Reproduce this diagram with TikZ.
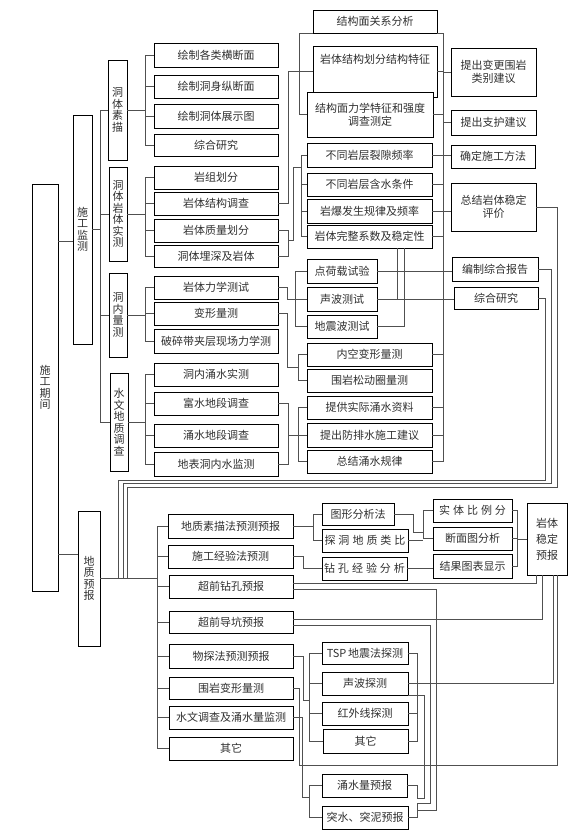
\documentclass[tikz,border=0pt]{standalone}
\usepackage{fontspec}
\setmainfont{Noto Sans CJK SC}
\usetikzlibrary{calc}
\definecolor{lnGray}{HTML}{505050}
\definecolor{txGray}{HTML}{303030}
\newcommand{\gap}{\hspace{3pt}}

\begin{document}
\begin{tikzpicture}[x=1pt, y=-1pt,
  box/.style={draw=black, line width=0.8pt, fill=white, inner sep=0pt, text=txGray, align=center, font=\fontsize{11}{13}\selectfont},
  vbox/.style={box, font=\fontsize{11}{11.5}\selectfont},
  tbox/.style={box, font=\fontsize{11}{16}\selectfont},
  ln/.style={draw=lnGray, line width=0.6pt}]
  \useasboundingbox (0,0) rectangle (576,834);
  % box: style, name, left, top, right, bottom, text
  \newcommand{\bx}[7]{\node[#1, minimum width={#5pt-#3pt}, minimum height={#6pt-#4pt}] (#2) at ({(#3+#5)/2},{(#4+#6)/2}) {#7};}
  % Main levels
  \bx{vbox}{qj}{32}{184}{58}{591}{施\\工\\期\\间}
  \bx{vbox}{jc}{73}{115}{92}{344}{施\\工\\监\\测}
  \bx{vbox}{yb}{78}{511}{100}{646}{地\\质\\预\\报}
  \bx{vbox}{sm}{108}{60}{127}{160}{洞\\体\\素\\描}
  \bx{vbox}{sc}{109}{167}{127}{261}{洞\\体\\岩\\体\\实\\测}
  \bx{vbox}{lc}{109}{273}{127}{357}{洞\\内\\量\\测}
  \bx{vbox}{sw}{110}{373}{128}{471}{水\\文\\地\\质\\调\\查}
  % Monitoring items
  \bx{box}{a1}{154}{43}{278}{67}{绘制各类横断面}
  \bx{box}{a2}{154}{75}{278}{98}{绘制洞身纵断面}
  \bx{box}{a3}{154}{104}{278}{128}{绘制洞体展示图}
  \bx{box}{a4}{154}{134}{278}{156}{综合研究}
  \bx{box}{b1}{154}{166}{278}{189}{岩组划分}
  \bx{box}{b2}{154}{192}{278}{215}{岩体结构调查}
  \bx{box}{b3}{154}{219}{278}{242}{岩体质量划分}
  \bx{box}{b4}{154}{245}{278}{267}{洞体埋深及岩体}
  \bx{box}{c1}{154}{276}{278}{299}{岩体力学测试}
  \bx{box}{c2}{154}{302}{278}{325}{变形量测}
  \bx{box}{c3}{154}{329}{278}{353}{破碎带夹层现场力学测}
  \bx{box}{d1}{154}{363}{278}{386}{洞内涌水实测}
  \bx{box}{d2}{154}{392}{278}{415}{富水地段调查}
  \bx{box}{d3}{154}{424}{278}{447}{涌水地段调查}
  \bx{box}{d4}{154}{452}{278}{476}{地表洞内水监测}
  % Results column
  \bx{box}{e1}{313}{10}{437}{33}{结构面关系分析}
  \bx{box}{e2}{313}{46}{437}{97}{}
  \node[text=txGray, font=\fontsize{11}{13}\selectfont] (e2t) at ($(e2.north)+(0,14)$) {岩体结构划分结构特征};
  \bx{box}{e3}{307}{92}{433}{137}{结构面力学特征和强度\\调查测定}
  \bx{box}{g1}{307}{143}{432}{167}{不同岩层裂隙频率}
  \bx{box}{g2}{307}{173}{432}{196}{不同岩层含水条件}
  \bx{box}{g3}{307}{199}{432}{223}{岩爆发生规律及频率}
  \bx{box}{g4}{307}{225}{432}{248}{岩体完整系数及稳定性}
  \bx{box}{h1}{307}{259}{377}{283}{点荷载试验}
  \bx{box}{h2}{307}{287}{377}{311}{声波测试}
  \bx{box}{h3}{307}{315}{377}{338}{地震波测试}
  \bx{box}{i1}{307}{343}{432}{366}{内空变形量测}
  \bx{box}{i2}{307}{369}{432}{392}{围岩松动圈量测}
  \bx{box}{j1}{307}{396}{432}{419}{提供实际涌水资料}
  \bx{box}{j2}{307}{423}{432}{447}{提出防排水施工建议}
  \bx{box}{j3}{307}{450}{432}{473}{总结涌水规律}
  \bx{box}{f1}{451}{48}{536}{96}{提出变更围岩\\类别建议}
  \bx{box}{f2}{451}{110}{536}{135}{提出支护建议}
  \bx{box}{f3}{451}{145}{535}{168}{确定施工方法}
  \bx{box}{f4}{451}{183}{536}{231}{总结岩体稳定\\评价}
  \bx{box}{f5}{452}{257}{538}{281}{编制综合报告}
  \bx{box}{f6}{454}{287}{538}{309}{综合研究}
  % Forecast items
  \bx{box}{k1}{168}{514}{293}{538}{地质素描法预测预报}
  \bx{box}{k2}{168}{545}{293}{568}{施工经验法预测}
  \bx{box}{k3}{169}{575}{293}{598}{超前钻孔预报}
  \bx{box}{k4}{169}{611}{293}{633}{超前导坑预报}
  \bx{box}{k5}{169}{644}{293}{668}{物探法预测预报}
  \bx{box}{k6}{169}{677}{293}{699}{围岩变形量测}
  \bx{box}{k7}{169}{706}{293}{729}{水文调查及涌水量监测}
  \bx{box}{k8}{169}{737}{293}{760}{其它}
  \bx{box}{m1}{322}{503}{394}{525}{图形分析法}
  \bx{box}{m2}{322}{529}{408}{552}{探\gap{}洞\gap{}地\gap{}质\gap{}类\gap{}比}
  \bx{box}{m3}{322}{557}{407}{580}{钻\gap{}孔\gap{}经\gap{}验\gap{}分\gap{}析}
  \bx{box}{n1}{433}{499}{512}{522}{实\gap{}体\gap{}比\gap{}例\gap{}分}
  \bx{box}{n2}{433}{527}{512}{550}{断面图分析}
  \bx{box}{n3}{433}{554}{512}{578}{结果图表显示}
  \bx{tbox}{wd}{527}{503}{567}{575}{岩体\\稳定\\预报}
  \bx{box}{p1}{322}{642}{408}{664}{TSP\,地震法探测}
  \bx{box}{p2}{322}{672}{408}{695}{声波探测}
  \bx{box}{p3}{322}{702}{408}{725}{红外线探测}
  \bx{box}{p4}{323}{729}{408}{753}{其它}
  \bx{box}{q1}{322}{774}{407}{797}{涌水量预报}
  \bx{box}{q2}{322}{806}{408}{829}{突水、突泥预报}
  % Bus positions
  \coordinate (xq) at (100,0);
  \coordinate (xb) at (145,0);
  \coordinate (xe) at (299,0);
  \coordinate (xg) at (301,0);
  \coordinate (xr) at (443,0);
  \coordinate (xc) at (295,0);
  \coordinate (xi) at (298,0);
  \coordinate (xj) at (298,0);
  \coordinate (xs1) at (397,0);
  \coordinate (xs2) at (404,0);
  \coordinate (xy) at (157,0);
  \coordinate (xm) at (313,0);
  \coordinate (xn) at (423,0);
  \coordinate (xw) at (517,0);
  \coordinate (xp) at (417,0);
  \coordinate (xpl) at (309,0);
  \coordinate (xk) at (299,0);
  \coordinate (w1) at (536,0);
  \coordinate (w2) at (542,0);
  \coordinate (w3) at (553,0);
  \coordinate (w4) at (557,0);
  % Construction period
  \draw[ln] ([yshift=-12pt]jc.west) coordinate (t) -- (t -| qj.east);
  \draw[ln] ([yshift=24pt]yb.west) coordinate (t) -- (t -| qj.east);
  \draw[ln] (sm.west) -- (sm.west -| xq) -- (sw.west -| xq) -- (sw.west);
  \draw[ln] (jc.east) -- (jc.east -| xq);
  \foreach \n in {sc,lc} \draw[ln] (\n.west -| xq) -- (\n.west);
  \foreach \p/\f/\l in {sm/a1/a4, sc/b1/b4, lc/c1/c3, sw/d1/d4} {
    \draw[ln] (\f.west) -- (\f.west -| xb) -- (\l.west -| xb) -- (\l.west);
    \draw[ln] (\p.east) -- (\p.east -| xb);
  }
  \foreach \n in {a2,a3,b2,b3,c2,d2,d3} \draw[ln] (\n.west -| xb) -- (\n.west);
  % Rock structure
  \draw[ln] (e1.south west) -- (e1.south west -| xe) -- (e3.west -| xe) -- (e3.west);
  \draw[ln] (e2.west -| xe) -- (e2.west);
  \draw[ln] (b2.east) -- ++(10,0) |- (e2.west -| xe);
  \draw[ln] (e1.south east) -- (e1.south east -| xr) -- (j3.east -| xr) -- (j3.east);
  \foreach \n in {e2,e3,g2,g4,i1,j1,j2} \draw[ln] (\n.east) -- (\n.east -| xr);
  \foreach \n in {f1,f2} \draw[ln] (\n.west -| xr) -- (\n.west);
  \draw[ln] (g1.east) -- (g1.east -| f3.west);
  \draw[ln] (g3.east) -- (g3.east -| f4.west);
  \draw[ln] (g1.west) -- (g1.west -| xg) -- (g4.west -| xg) -- (g4.west);
  \foreach \n in {g2,g3} \draw[ln] (\n.west -| xg) -- (\n.west);
  \draw[ln] (b3.east) -- ++(10,0) coordinate (u) |- (b4.east);
  \draw[ln] ([yshift=-10pt]u) -- ++(5,0) |- ([yshift=-12pt]g1.west -| xg);
  \draw[ln] (g4.south -| xs1) |- (h2.east);
  \draw[ln] (g4.south -| xs2) |- (h3.east);
  % Measurements
  \draw[ln] (h1.west) -- (h1.west -| xc) -- (h3.west -| xc) -- (h3.west);
  \draw[ln] (h2.west -| xc) -- (h2.west);
  \draw[ln] (c1.east) -- ++(9,0) |- (h2.west -| xc);
  \draw[ln] (i1.west) -- (i1.west -| xi) -- (i2.west -| xi) -- (i2.west);
  \coordinate (im) at ($(i1.west -| xi)!0.5!(i2.west -| xi)$);
  \draw[ln] (c2.east) -- ++(9,0) |- (im);
  \draw[ln] (d2.east) -- ++(10,0) coordinate (v) |- (d4.east);
  \draw[ln] (j1.west) -- (j1.west -| xj) -- (j3.west -| xj) -- (j3.west);
  \draw[ln] (j2.west -| v) -- (j2.west);
  \draw[ln] (h1.east) -- (h1.east -| f5.west);
  \draw[ln] (h2.east) -- (h2.east -| f6.west);
  % Links down to forecast
  \draw[ln] (yb.east) -- (yb.east -| xy);
  \foreach \n/\xa/\ya/\xb in {f6/545/480/118, f5/551/483/123, f4/557/487/127}
    \draw[ln] (\n.east) -| (\xa,\ya) -| (\xb,0 |- yb.east);
  % Geological forecast
  \draw[ln] (k1.west) -- (k1.west -| xy) -- (k8.west -| xy) -- (k8.west);
  \foreach \n in {2,...,7} \draw[ln] (k\n.west -| xy) -- (k\n.west);
  \draw[ln] (m1.west) -- (m1.west -| xm) |- (m2.west);
  \draw[ln] (k1.east) -- (k1.east -| xm);
  \draw[ln] (k2.east) -- ++(10,0) |- (m3.west);
  \draw[ln] (n1.west) -- (n1.west -| xn) -- (n2.west -| xn) -- (n2.west);
  \draw[ln] (m1.east) -- ++(19,0) -- ++(0,18) -- ++(10,0);
  \draw[ln] (m2.east) -- (m2.east -| xn);
  \draw[ln] (m3.east) -- (m3.east -| n3.west);
  \draw[ln] (n1.east) -- (n1.east -| xw) -- (n3.east -| xw) -- (n3.east);
  \draw[ln] (n2.east) -- (n2.east -| xw);
  \draw[ln] (wd.west -| xw) -- (wd.west);
  \draw[ln] (wd.south -| w1) |- ([yshift=3pt]k3.east);
  \draw[ln] (wd.south -| w2) |- ([yshift=3pt]k4.east);
  \draw[ln] (p1.east) -- (p1.east -| xp) -- (p4.east -| xp) -- (p4.east);
  \foreach \n in {p2,p3} \draw[ln] (\n.east) -- (\n.east -| xp);
  \draw[ln] (wd.south -| w3) |- (p2.east -| xp);
  \draw[ln] (k6.east) -- (k6.east -| xk) -- (xk |- 0,765) -| (wd.south -| w4);
  \draw[ln] (p1.west) -- (p1.west -| xpl) -- (p4.west -| xpl) -- (p4.west);
  \foreach \n in {p2,p3} \draw[ln] (\n.west -| xpl) -- (\n.west);
  \draw[ln] (k5.east) -- ++(10,0) |- (xpl |- 0,700);
  \draw[ln] (q1.west) -- ++(-12,0) |- (q2.west);
  \draw[ln] (k7.east) -- ++(9,0) |- (310,797);
  \draw[ln] ([yshift=-3pt]k3.east) -| (436,810) -- (417,810);
  \draw[ln] ([yshift=-3pt]k4.east) -| (430,803) -- (417,803) |- (q2.east);
  \draw[ln] (q1.east) -| (417,798) -- (424,798) |- (p2.south east);
\end{tikzpicture}
\end{document}
